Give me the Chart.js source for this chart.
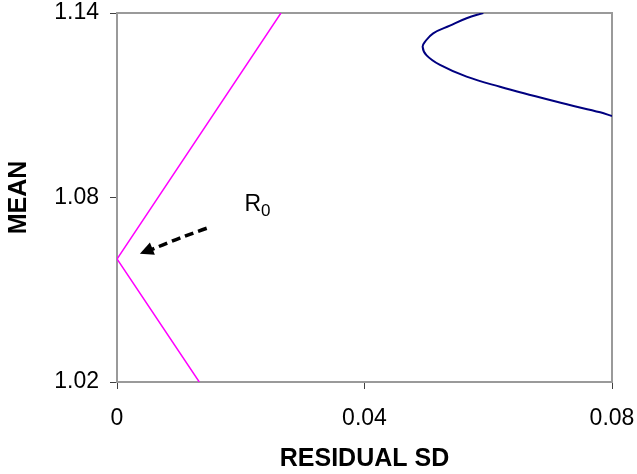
<!DOCTYPE html>
<html>
<head>
<meta charset="utf-8">
<script src="https://cdn.jsdelivr.net/npm/chart.js@4"></script>
<style>
  html, body { margin: 0; padding: 0; background: #fff; }
  #wrap { width: 637px; height: 474px; }
</style>
</head>
<body>
<div id="wrap"><canvas id="Chart" width="637" height="474"></canvas></div>
<script>
// axis ticks
const xTicks = [0, 0.04, 0.08];
const xTickLabels = ['0', '0.04', '0.08'];
const yTicks = [1.02, 1.08, 1.14];
const yTickLabels = ['1.02', '1.08', '1.14'];

// magenta boundary (residual sd, mean)
const lineSD = [0.0265, 0, 0.0133];
const lineMean = [1.14, 1.06, 1.02];

// blue curve
const curveSD = [0.0592, 0.0565, 0.0538, 0.0511, 0.0498, 0.0494, 0.0500, 0.0522, 0.0565, 0.0619, 0.0673, 0.0727, 0.0781, 0.0800];
const curveMean = [1.1400, 1.1383, 1.1359, 1.1334, 1.1307, 1.1290, 1.1263, 1.1231, 1.1193, 1.1160, 1.1131, 1.1103, 1.1077, 1.1065];

// R0 annotation: arrow from -> to, label spot (data units)
const arrowFrom = [0.0145, 1.0700];
const arrowMid = [0.0095, 1.0665];
const arrowTo = [0.0037, 1.0617];
const labelAt = [0.0206, 1.0776];

const ctx = document.getElementById("Chart").getContext("2d");
const FONT = "'Liberation Sans', Arial, sans-serif";

function toPts(xs, ys) {
  return xs.map((x, i) => ({ x: x, y: ys[i] }));
}

// no extra room for overflowing tick labels, layout padding sets the plot box
function noOverflow(s) {
  s.paddingTop = 0; s.paddingBottom = 0; s.paddingLeft = 0; s.paddingRight = 0;
}

// gray frame round the plot area
const framePlugin = {
  id: 'frame',
  beforeDatasetsDraw(chart) {
    const a = chart.chartArea, c = chart.ctx;
    c.save();
    c.strokeStyle = '#9a9a9a';
    c.lineWidth = 2;
    c.strokeRect(a.left, a.top, a.right - a.left, a.bottom - a.top);
    c.restore();
  }
};

const annotePlugin = {
  id: 'annote',
  afterDatasetsDraw(chart) {
    const xs = chart.scales.x, ys = chart.scales.y, c = chart.ctx;
    const p = v => [xs.getPixelForValue(v[0]), ys.getPixelForValue(v[1])];
    const f = p(arrowFrom), m = p(arrowMid), t = p(arrowTo);
    c.save();
    c.strokeStyle = '#000';
    c.lineWidth = 3.5;
    c.setLineDash([9, 5]);
    c.beginPath();
    c.moveTo(f[0], f[1]);
    c.quadraticCurveTo(m[0], m[1], t[0] + 9, t[1] - 3);
    c.stroke();
    c.setLineDash([]);
    // arrow head
    const ang = Math.atan2(t[1] - m[1], t[0] - m[0]);
    c.fillStyle = '#000';
    c.beginPath();
    c.moveTo(t[0], t[1]);
    c.lineTo(t[0] - 15 * Math.cos(ang - 0.45), t[1] - 15 * Math.sin(ang - 0.45));
    c.lineTo(t[0] - 15 * Math.cos(ang + 0.45), t[1] - 15 * Math.sin(ang + 0.45));
    c.closePath();
    c.fill();
    // label R0
    const l = p(labelAt);
    c.font = '23px ' + FONT;
    c.textBaseline = 'middle';
    c.textAlign = 'left';
    c.fillText('R', l[0], l[1]);
    const w = c.measureText('R').width;
    c.font = '17px ' + FONT;
    c.fillText('0', l[0] + w, l[1] + 6);
    c.restore();
  }
};

new Chart(ctx, {
  type: 'scatter',
  data: {
    datasets: [{
      label: 'boundary',
      data: toPts(lineSD, lineMean),
      showLine: true,
      borderColor: '#ff00ff',
      borderWidth: 1.5,
      pointRadius: 0,
      tension: 0
    }, {
      label: 'curve',
      data: toPts(curveSD, curveMean),
      showLine: true,
      borderColor: '#000080',
      borderWidth: 2,
      pointRadius: 0,
      tension: 0.4
    }]
  },
  options: {
    responsive: false,
    animation: false,
    layout: { padding: { top: 13, right: 25, left: 0, bottom: 0 } },
    plugins: { legend: { display: false }, tooltip: { enabled: false } },
    scales: {
      x: {
        type: 'linear',
        min: 0, max: 0.08,
        afterBuildTicks: s => { s.ticks = xTicks.map(v => ({ value: v })); },
        afterFit: s => { s.height = 92; noOverflow(s); },
        ticks: {
          callback: (v, i) => xTickLabels[i],
          color: '#000',
          font: { family: FONT, size: 23 },
          padding: 16,
          maxRotation: 0
        },
        grid: { drawOnChartArea: false, tickLength: 7, color: '#404040' },
        border: { color: '#404040', width: 1.5 },
        title: {
          display: true,
          text: 'RESIDUAL SD',
          color: '#000',
          font: { family: FONT, size: 25, weight: 'bold' },
          padding: { top: 0, bottom: 0 }
        }
      },
      y: {
        type: 'linear',
        min: 1.02, max: 1.14,
        afterBuildTicks: s => { s.ticks = yTicks.map(v => ({ value: v })); },
        afterFit: s => { s.width = 117; noOverflow(s); },
        ticks: {
          callback: (v, i) => yTickLabels[i],
          color: '#000',
          font: { family: FONT, size: 23 },
          padding: 11
        },
        grid: { drawOnChartArea: false, tickLength: 7, color: '#404040' },
        border: { color: '#404040', width: 1.5 },
        title: {
          display: true,
          text: 'MEAN',
          color: '#000',
          font: { family: FONT, size: 25, weight: 'bold' },
          padding: { top: 4, bottom: 0 }
        }
      }
    }
  },
  plugins: [framePlugin, annotePlugin]
});
</script>
</body>
</html>
